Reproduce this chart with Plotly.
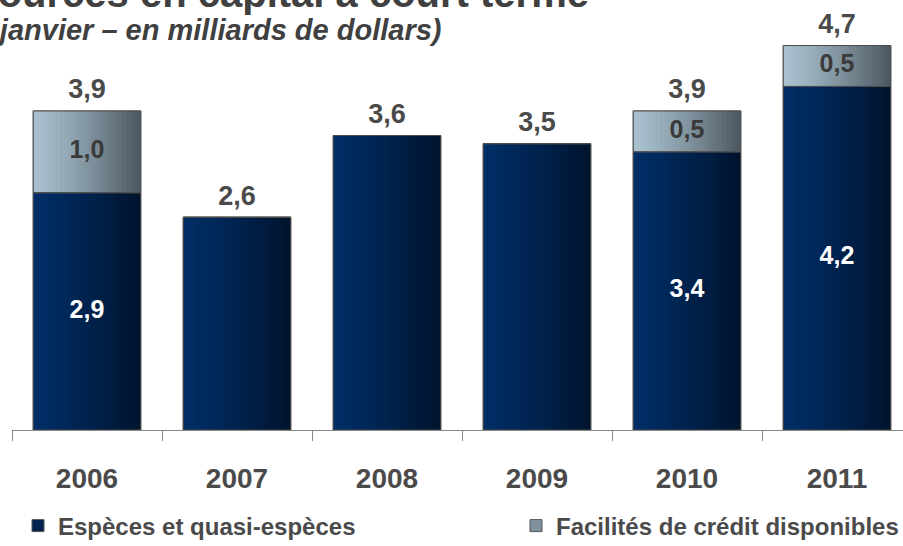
import plotly.graph_objects as go

years = ["2006", "2007", "2008", "2009", "2010", "2011"]
cash = [2.9, 2.6, 3.6, 3.5, 3.4, 4.2]
credit = [1.0, 0.0, 0.0, 0.0, 0.5, 0.5]
cash_labels = [True, False, False, False, True, True]
series_names = ["Espèces et quasi-espèces", "Facilités de crédit disponibles"]
title_text = "Ressources en capital à court terme"
subtitle_text = "(au 31 janvier – en milliards de dollars)"

def fmt(v):
    return f"{v:.1f}".replace(".", ",")

totals = [c + k for c, k in zip(cash, credit)]
BW = 0.717
N = 28
TXT = "#4a4a4a"
FONT = "Liberation Sans"

def lerp(c1, c2, t):
    return "rgb(%d,%d,%d)" % tuple(round(a + (b - a) * t) for a, b in zip(c1, c2))

blue_l, blue_r = (0, 46, 102), (0, 19, 44)
grey_l, grey_r = (170, 194, 208), (74, 86, 95)

fig = go.Figure()

# legend / base traces
fig.add_trace(go.Bar(x=years, y=cash, base=[0]*6, width=BW, name=series_names[0],
                     marker=dict(color=lerp(blue_l, blue_r, 0.45), line=dict(color="#555", width=1)),
                     hoverinfo="skip", legend="legend"))
fig.add_trace(go.Bar(x=years, y=credit, base=cash, width=BW, name=series_names[1],
                     marker=dict(color=lerp(grey_l, grey_r, 0.45), line=dict(color="#555", width=1)),
                     hoverinfo="skip", legend="legend2"))

# gradient slices
for i in range(N):
    t = (i + 0.5) / N
    tt = t ** 1.25
    off = -BW / 2 + i * BW / N
    w = BW / N * 1.08 if i < N - 1 else BW / N
    fig.add_trace(go.Bar(x=years, y=cash, base=[0]*6, width=w, offset=off, showlegend=False,
                         marker=dict(color=lerp(blue_l, blue_r, tt), line=dict(width=0)),
                         hoverinfo="skip"))
    fig.add_trace(go.Bar(x=years, y=credit, base=cash, width=w, offset=off, showlegend=False,
                         marker=dict(color=lerp(grey_l, grey_r, tt), line=dict(width=0)),
                         hoverinfo="skip"))

# outlines
fig.add_trace(go.Bar(x=years, y=cash, base=[0]*6, width=BW, showlegend=False,
                     marker=dict(color="rgba(0,0,0,0)", line=dict(color="#4d4d4d", width=1)),
                     hoverinfo="skip"))
fig.add_trace(go.Bar(x=years, y=credit, base=cash, width=BW, showlegend=False,
                     marker=dict(color="rgba(0,0,0,0)", line=dict(color="#4d4d4d", width=1)),
                     hoverinfo="skip"))

# labels
fig.add_trace(go.Scatter(x=years, y=totals, mode="markers+text", text=[fmt(v) for v in totals],
                         textposition="top center", showlegend=False, hoverinfo="skip",
                         marker=dict(size=8, color="rgba(0,0,0,0)"),
                         textfont=dict(family=FONT, size=27, color=TXT, weight="bold")))
cx = [y for y, s in zip(years, cash_labels) if s]
cy = [c / 2 for c, s in zip(cash, cash_labels) if s]
ct = [fmt(c) for c, s in zip(cash, cash_labels) if s]
fig.add_trace(go.Scatter(x=cx, y=cy, mode="text", text=ct, textposition="middle center",
                         showlegend=False, hoverinfo="skip",
                         textfont=dict(family=FONT, size=25, color="white", weight="bold")))
kx = [y for y, k in zip(years, credit) if k > 0]
ky = [c + k / 2 for c, k in zip(cash, credit) if k > 0]
kt = [fmt(k) for k in credit if k > 0]
fig.add_trace(go.Scatter(x=kx, y=ky, mode="text", text=kt, textposition="middle center",
                         showlegend=False, hoverinfo="skip",
                         textfont=dict(family=FONT, size=25, color="#3a3a3a", weight="bold")))

PLOT_H = 430
PLOT_W = 891
leg_font = dict(family=FONT, size=24, color=TXT, weight="bold")
fig.update_layout(
    width=903, height=546,
    margin=dict(l=12, r=0, t=0, b=116, autoexpand=False),
    barmode="overlay",
    plot_bgcolor="white", paper_bgcolor="white",
    font=dict(family=FONT, color=TXT),
    showlegend=True,
    legend=dict(orientation="h", x=6/PLOT_W, xanchor="left", y=(430-526)/PLOT_H, yanchor="middle",
                font=leg_font, itemclick=False, bgcolor="rgba(0,0,0,0)"),
    legend2=dict(orientation="h", x=504/PLOT_W, xanchor="left", y=(430-526)/PLOT_H, yanchor="middle",
                 font=leg_font, itemclick=False, bgcolor="rgba(0,0,0,0)"),
    xaxis=dict(type="category", range=[-0.5, 5.44], showline=True, linecolor="#868686",
               linewidth=1, ticks="outside", ticklen=10, tickcolor="#868686",
               tickson="boundaries", showgrid=False, zeroline=False,
               tickfont=dict(family=FONT, size=28, color=TXT, weight="bold"),
               ticklabelstandoff=23),
    yaxis=dict(range=[0, PLOT_H / 81.8], visible=False, showgrid=False, zeroline=False),
    annotations=[
        dict(text=title_text, xref="paper", yref="paper", x=(591-12)/PLOT_W, y=1 + 7/PLOT_H,
             xanchor="right", yanchor="middle", showarrow=False,
             font=dict(family=FONT, size=40, color="#404040", weight="bold")),
        dict(text="<i>" + subtitle_text + "</i>", xref="paper", yref="paper", x=(443-12)/PLOT_W,
             y=1 - 30/PLOT_H, xanchor="right", yanchor="middle", showarrow=False,
             font=dict(family=FONT, size=29, color="#404040", weight="bold")),
    ],
)

fig.write_html("out.html", config={"displayModeBar": False},
               post_script="document.body.style.margin='0';")
